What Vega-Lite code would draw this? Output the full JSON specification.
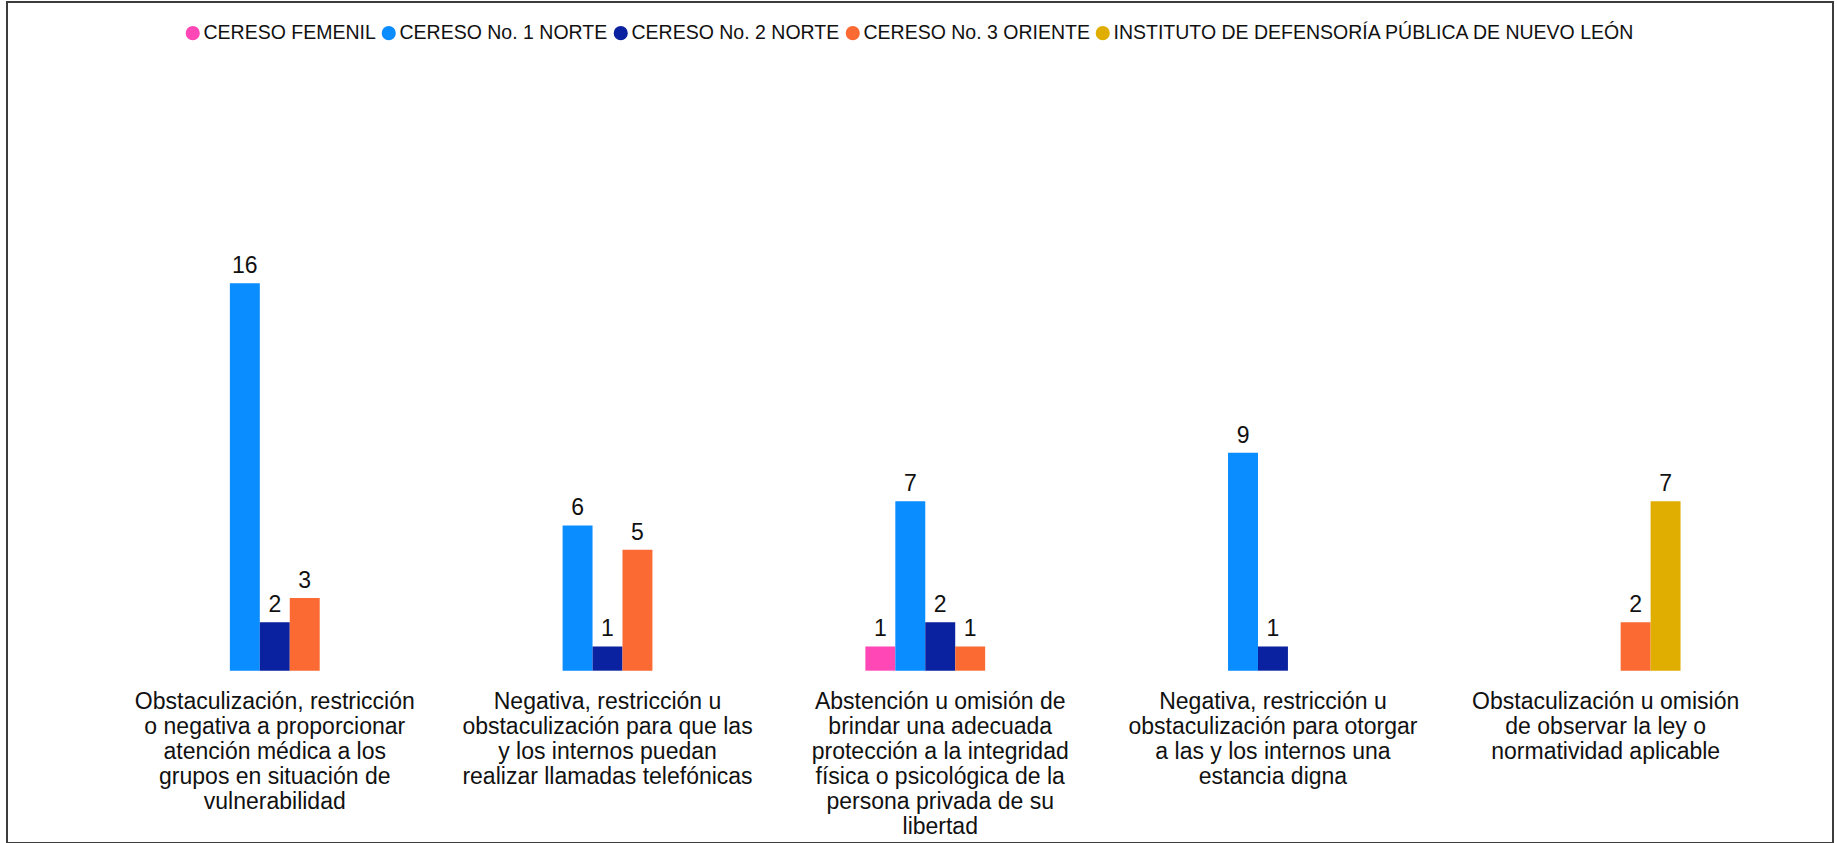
{
  "$schema": "https://vega.github.io/schema/vega-lite/v6.json",
  "width": 1826,
  "height": 841,
  "autosize": {"type": "none"},
  "padding": {"left": 7, "top": 2, "right": 4, "bottom": 0},
  "background": "white",
  "config": {
    "view": {"stroke": "#3c3c3c", "strokeWidth": 2},
    "font": "Liberation Sans"
  },
  "data": {
    "values": [
      {"cat": "Obstaculización, restricción|o negativa a proporcionar|atención médica a los|grupos en situación de|vulnerabilidad", "serie": "CERESO No. 1 NORTE", "valor": 16},
      {"cat": "Obstaculización, restricción|o negativa a proporcionar|atención médica a los|grupos en situación de|vulnerabilidad", "serie": "CERESO No. 2 NORTE", "valor": 2},
      {"cat": "Obstaculización, restricción|o negativa a proporcionar|atención médica a los|grupos en situación de|vulnerabilidad", "serie": "CERESO No. 3 ORIENTE", "valor": 3},
      {"cat": "Negativa, restricción u|obstaculización para que las|y los internos puedan|realizar llamadas telefónicas", "serie": "CERESO No. 1 NORTE", "valor": 6},
      {"cat": "Negativa, restricción u|obstaculización para que las|y los internos puedan|realizar llamadas telefónicas", "serie": "CERESO No. 2 NORTE", "valor": 1},
      {"cat": "Negativa, restricción u|obstaculización para que las|y los internos puedan|realizar llamadas telefónicas", "serie": "CERESO No. 3 ORIENTE", "valor": 5},
      {"cat": "Abstención u omisión de|brindar una adecuada|protección a la integridad|física o psicológica de la|persona privada de su|libertad", "serie": "CERESO FEMENIL", "valor": 1},
      {"cat": "Abstención u omisión de|brindar una adecuada|protección a la integridad|física o psicológica de la|persona privada de su|libertad", "serie": "CERESO No. 1 NORTE", "valor": 7},
      {"cat": "Abstención u omisión de|brindar una adecuada|protección a la integridad|física o psicológica de la|persona privada de su|libertad", "serie": "CERESO No. 2 NORTE", "valor": 2},
      {"cat": "Abstención u omisión de|brindar una adecuada|protección a la integridad|física o psicológica de la|persona privada de su|libertad", "serie": "CERESO No. 3 ORIENTE", "valor": 1},
      {"cat": "Negativa, restricción u|obstaculización para otorgar|a las y los internos una|estancia digna", "serie": "CERESO No. 1 NORTE", "valor": 9},
      {"cat": "Negativa, restricción u|obstaculización para otorgar|a las y los internos una|estancia digna", "serie": "CERESO No. 2 NORTE", "valor": 1},
      {"cat": "Obstaculización u omisión|de observar la ley o|normatividad aplicable", "serie": "CERESO No. 3 ORIENTE", "valor": 2},
      {"cat": "Obstaculización u omisión|de observar la ley o|normatividad aplicable", "serie": "INSTITUTO DE DEFENSORÍA PÚBLICA DE NUEVO LEÓN", "valor": 7}
    ]
  },
  "encoding": {
    "x": {
      "field": "cat",
      "type": "nominal",
      "sort": null,
      "title": null,
      "scale": {"paddingInner": 0.55, "paddingOuter": 0.519, "align": 0.5586},
      "axis": {
        "orient": "bottom",
        "offset": -172.3,
        "domain": false,
        "ticks": false,
        "tickSize": 0,
        "labelAngle": 0,
        "labelPadding": 20,
        "labelBaseline": "top",
        "labelAlign": "center",
        "labelFontSize": 23,
        "labelLineHeight": 25,
        "labelFont": "Liberation Sans",
        "labelColor": "#111111",
        "labelLimit": 500,
        "labelOverlap": false,
        "labelExpr": "split(datum.label, '|')"
      }
    },
    "xOffset": {
      "field": "serie",
      "type": "nominal",
      "scale": {
        "domain": ["CERESO FEMENIL", "CERESO No. 1 NORTE", "CERESO No. 2 NORTE", "CERESO No. 3 ORIENTE", "INSTITUTO DE DEFENSORÍA PÚBLICA DE NUEVO LEÓN"],
        "paddingInner": 0,
        "paddingOuter": 0
      }
    },
    "y": {
      "field": "valor",
      "type": "quantitative",
      "title": null,
      "scale": {"domain": [-7.117, 27.62], "nice": false, "zero": false},
      "axis": null
    }
  },
  "layer": [
    {
      "mark": {"type": "bar"},
      "encoding": {
        "y2": {"datum": 0},
        "color": {
          "field": "serie",
          "type": "nominal",
          "title": null,
          "scale": {
            "domain": ["CERESO FEMENIL", "CERESO No. 1 NORTE", "CERESO No. 2 NORTE", "CERESO No. 3 ORIENTE", "INSTITUTO DE DEFENSORÍA PÚBLICA DE NUEVO LEÓN"],
            "range": ["#FF47B5", "#0A8DFF", "#0A22A0", "#FA6A32", "#E0AE00"]
          },
          "legend": {
            "orient": "none",
            "legendX": 176,
            "legendY": 21,
            "direction": "horizontal",
            "symbolType": "circle",
            "symbolSize": 200,
            "symbolStrokeWidth": 0,
            "symbolOpacity": 1,
            "labelFontSize": 19.5,
            "labelFont": "Liberation Sans",
            "labelColor": "#111111",
            "labelOffset": 1,
            "labelLimit": 1000,
            "columnPadding": 3,
            "padding": 0,
            "title": null
          }
        }
      }
    },
    {
      "mark": {"type": "text", "baseline": "alphabetic", "align": "center", "dy": -10, "fontSize": 23, "font": "Liberation Sans", "color": "#111111"},
      "encoding": {
        "text": {"field": "valor", "type": "quantitative"}
      }
    }
  ]
}
